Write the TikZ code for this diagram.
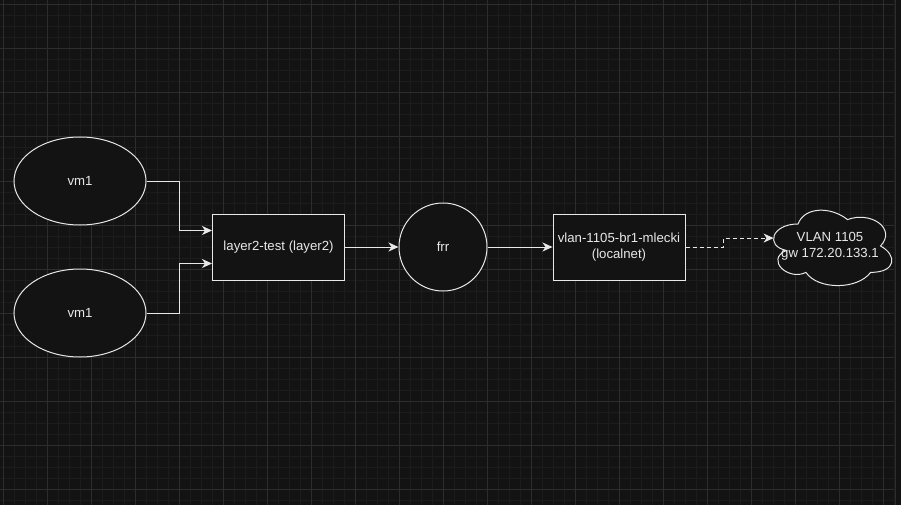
\documentclass[tikz,border=0pt]{standalone}
\usepackage{fontspec}
\setmainfont{Liberation Sans}
\usetikzlibrary{shapes.geometric,arrows.meta,positioning}

\definecolor{bgcol}{HTML}{131313}
\definecolor{minorcol}{HTML}{1C1C1C}
\definecolor{majorcol}{HTML}{2D2D2D}
\definecolor{fgcol}{HTML}{E8E8E8}

\newcommand{\nodefont}{\fontsize{13.2}{16}\selectfont}
\newcommand{\vmnode}{\node[ellipse, draw=fgcol, fill=bgcol, line width=1pt, minimum width=132, minimum height=88, text=fgcol, font=\nodefont]}
\newcommand{\boxnode}{\node[rectangle, draw=fgcol, fill=bgcol, line width=1pt, minimum width=132, minimum height=66, text=fgcol, font=\nodefont, align=center, inner sep=1pt]}
\newcommand{\rtnode}{\node[circle, draw=fgcol, fill=bgcol, line width=1pt, minimum size=88, text=fgcol, font=\nodefont]}

\tikzset{
    link/.style={draw=fgcol, line width=1pt, -{Stealth[length=10pt, width=9pt, inset=3pt]}},
}

\begin{document}
\begin{tikzpicture}[x=1pt, y=-1pt]
            \fill[bgcol] (0,0) rectangle (901,505);
            \useasboundingbox (0,0) rectangle (901,505);

            % grid
            \foreach \gx in {3,14,...,894}
                \draw[minorcol, line width=1pt] (\gx,0) -- (\gx,505);
            \foreach \gy in {5,16,...,505}
                \draw[minorcol, line width=1pt] (0,\gy) -- (894,\gy);
            \foreach \gx in {3,47,...,883}
                \draw[majorcol, line width=1pt] (\gx,0) -- (\gx,505);
            \foreach \gy in {5,49,...,489}
                \draw[majorcol, line width=1pt] (0,\gy) -- (894,\gy);
            \draw[majorcol, line width=1pt] (895.5,0) -- (895.5,505);

            \vmnode (vma) at (80, 181) {vm1};
            \vmnode (vmb) at (80, 313) {vm1};
            \boxnode (l2) at (278.5, 247) {layer2-test (layer2)};
            \rtnode (frr) at (443, 247) {frr};
            \boxnode (vbr) at (619, 247) {vlan-1105-br1-mlecki\\(localnet)};

            % cloud, in a 132x88 box
            \begin{scope}[shift={(765,202)}, x=132pt, y=-88pt]
                \draw[fgcol, fill=bgcol, line width=1pt]
                    (0.25,0.25) .. controls (0.05,0.25) and (0,0.5) .. (0.16,0.55)
                    .. controls (0,0.66) and (0.18,0.9) .. (0.31,0.8)
                    .. controls (0.4,1) and (0.7,1) .. (0.8,0.8)
                    .. controls (1,0.8) and (1,0.6) .. (0.875,0.5)
                    .. controls (1,0.3) and (0.8,0.1) .. (0.625,0.2)
                    .. controls (0.5,0.05) and (0.3,0.05) .. (0.25,0.25) -- cycle;
                \coordinate (lanin) at (0.065,0.41);
            \end{scope}
            \node[text=fgcol, font=\nodefont, align=center, inner sep=0pt] (lan) at (830, 246) {VLAN 1105\\gw 172.20.133.1};

            \draw[link]
                (vma.east) -- ++(33,0) |- ([yshift=16.5pt]l2.west);
            \draw[link]
                (vmb.east) -- ++(33,0) |- ([yshift=-16.5pt]l2.west);

            \draw[link]
                (l2.east) -- (frr.west);
            \draw[link]
                (frr.east) -- (vbr.west);

            \draw[link, dash pattern=on 4pt off 3pt]
                (vbr.east) -- ++(38,0) |- (lanin);
        \end{tikzpicture}
\end{document}
